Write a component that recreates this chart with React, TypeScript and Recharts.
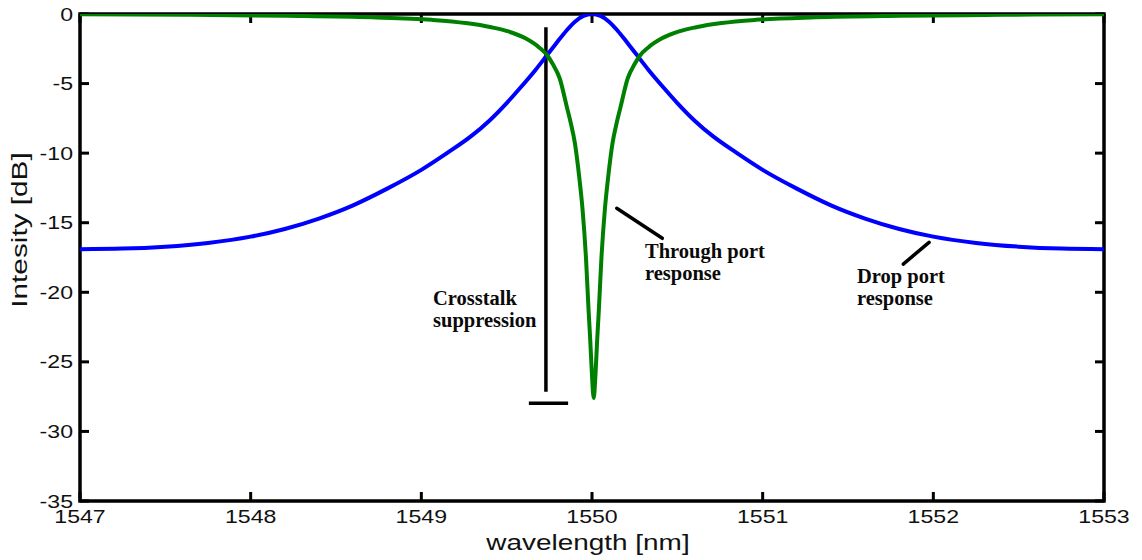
import { Line, LineChart, ReferenceArea, ReferenceLine, XAxis, YAxis } from "recharts";

// axis ticks
const wavelengthTicks = [1547, 1548, 1549, 1550, 1551, 1552, 1553];
const intensityTicks = [-35, -30, -25, -20, -15, -10, -5, 0];

// drop port response (blue)
const dropWavelength = [
  1547.0, 1547.25, 1547.5, 1547.75, 1548.0, 1548.2, 1548.4, 1548.6, 1548.8, 1549.0,
  1549.15, 1549.29, 1549.4, 1549.5, 1549.58, 1549.67, 1549.74, 1549.8, 1549.85, 1549.9,
  1549.95, 1550.0, 1550.05, 1550.1, 1550.15, 1550.2, 1550.26, 1550.33, 1550.42, 1550.5,
  1550.6, 1550.71, 1550.85, 1551.0, 1551.2, 1551.4, 1551.6, 1551.8, 1552.0, 1552.25,
  1552.5, 1552.75, 1553.0,
];
const dropIntensity = [
  -16.9, -16.86, -16.72, -16.45, -16.0, -15.45, -14.7, -13.75, -12.55, -11.2,
  -10.0, -8.8, -7.65, -6.4, -5.3, -4.0, -2.9, -1.95, -1.2, -0.55,
  -0.14, 0, -0.14, -0.55, -1.2, -1.95, -2.9, -4.0, -5.3, -6.4,
  -7.65, -8.8, -10.0, -11.2, -12.55, -13.75, -14.7, -15.45, -16.0, -16.45,
  -16.72, -16.86, -16.9,
];

// through port response (green)
const throughWavelength = [
  1547.0, 1547.61, 1548.21, 1548.71, 1549.06, 1549.26, 1549.41, 1549.51, 1549.61, 1549.69,
  1549.74, 1549.77, 1549.81, 1549.855, 1549.875, 1549.9, 1549.925, 1549.945, 1549.965, 1549.98,
  1549.99, 1550.0, 1550.01,
  1550.02, 1550.03, 1550.04, 1550.055, 1550.075, 1550.095, 1550.12, 1550.145, 1550.165, 1550.21,
  1550.25, 1550.28, 1550.33, 1550.41, 1550.51, 1550.61, 1550.76, 1550.96, 1551.31, 1551.81,
  1552.41, 1553.0,
];
const throughIntensity = [
  -0.02, -0.06, -0.13, -0.24, -0.42, -0.65, -0.95, -1.25, -1.75, -2.4,
  -3.0, -3.6, -4.6, -6.8, -7.8, -9.3, -11.7, -14.1, -17.6, -21.3,
  -23.5, -26.0, -27.6,
  -26.0, -23.5, -21.3, -17.6, -14.1, -11.7, -9.3, -7.8, -6.8, -4.6,
  -3.6, -3.0, -2.4, -1.75, -1.25, -0.95, -0.65, -0.42, -0.24, -0.13,
  -0.06, -0.02,
];

// annotation strokes, in wavelength / dB
const crosstalkBar = [
  { x: 1549.73, y: -0.96 },
  { x: 1549.73, y: -27.15 },
];
const crosstalkFloor = [
  { x: 1549.63, y: -27.98 },
  { x: 1549.86, y: -27.98 },
];
const throughPointer = [
  { x: 1550.145, y: -13.96 },
  { x: 1550.412, y: -16.12 },
];
const dropPointer = [
  { x: 1551.824, y: -17.97 },
  { x: 1551.975, y: -16.41 },
];

const dropData = dropWavelength.map((wl, i) => ({ wl, db: dropIntensity[i] }));
const throughData = throughWavelength.map((wl, i) => ({ wl, db: throughIntensity[i] }));

const SANS = "'Liberation Sans', Arial, sans-serif";
const SERIF = "'Liberation Serif', 'Times New Roman', serif";
const STRETCH = 1.25;
const TICK_LEN = 9;

function BottomLabel(props: any) {
  const { x, y, payload } = props;
  return (
    <text
      transform={`translate(${x},${y + 22}) scale(${STRETCH},1)`}
      textAnchor="middle"
      fontSize={18.5}
      fontFamily={SANS}
      fill="#111"
    >
      {payload.value}
    </text>
  );
}

function LeftLabel(props: any) {
  const { x, y, payload } = props;
  return (
    <text
      transform={`translate(${x - 7},${y + 6.6}) scale(${STRETCH},1)`}
      textAnchor="end"
      fontSize={18.5}
      fontFamily={SANS}
      fill="#111"
    >
      {payload.value}
    </text>
  );
}

// inward tick marks at both ends of a vertical reference line
function VerticalTicks(p: any) {
  const top = Math.min(p.y1, p.y2);
  const bottom = Math.max(p.y1, p.y2);
  return (
    <g stroke="#000" strokeWidth={3}>
      <line x1={p.x1} x2={p.x1} y1={top} y2={top + TICK_LEN} />
      <line x1={p.x1} x2={p.x1} y1={bottom} y2={bottom - TICK_LEN} />
    </g>
  );
}

// inward tick marks at both ends of a horizontal reference line
function HorizontalTicks(p: any) {
  const left = Math.min(p.x1, p.x2);
  const right = Math.max(p.x1, p.x2);
  return (
    <g stroke="#000" strokeWidth={3}>
      <line x1={left} x2={left + TICK_LEN} y1={p.y1} y2={p.y1} />
      <line x1={right} x2={right - TICK_LEN} y1={p.y1} y2={p.y1} />
    </g>
  );
}

function Note({ x, y, lines }: { x: number; y: number; lines: string[] }) {
  return (
    <text x={x} y={y} fontSize={20.5} fontWeight="bold" fontFamily={SERIF} fill="#0a0a0a">
      {lines.map((t, i) => (
        <tspan key={t} x={x} dy={i === 0 ? 0 : 22}>
          {t}
        </tspan>
      ))}
    </text>
  );
}

export default function App() {
  return (
    <div style={{ position: "absolute", left: 0, top: 0, width: 1142, height: 560, background: "#fff" }}>
      <LineChart width={1142} height={560} margin={{ top: 14, right: 38, bottom: 0, left: 0 }}>
        <XAxis
          dataKey="wl"
          type="number"
          domain={[1547, 1553]}
          ticks={wavelengthTicks}
          interval={0}
          allowDataOverflow
          height={59}
          tickSize={0}
          tickMargin={0}
          tickLine={false}
          axisLine={false}
          tick={<BottomLabel />}
        />
        <YAxis
          type="number"
          domain={[-35, 0]}
          ticks={intensityTicks}
          interval={0}
          allowDataOverflow
          width={80}
          tickSize={0}
          tickMargin={0}
          tickLine={false}
          axisLine={false}
          tick={<LeftLabel />}
        />
        <ReferenceArea
          x1={1547}
          x2={1553}
          y1={-35}
          y2={0}
          fill="none"
          fillOpacity={0}
          stroke="#000"
          strokeWidth={3.5}
          ifOverflow="visible"
        />
        {wavelengthTicks.map((v) => (
          <ReferenceLine key={`xt${v}`} x={v} shape={VerticalTicks} />
        ))}
        {intensityTicks.map((v) => (
          <ReferenceLine key={`yt${v}`} y={v} shape={HorizontalTicks} />
        ))}
        <ReferenceLine segment={crosstalkBar} stroke="#000" strokeWidth={3.5} />
        <ReferenceLine segment={crosstalkFloor} stroke="#000" strokeWidth={3.5} />
        <ReferenceLine segment={throughPointer} stroke="#000" strokeWidth={3.5} strokeLinecap="round" />
        <ReferenceLine segment={dropPointer} stroke="#000" strokeWidth={3.5} strokeLinecap="round" />
        <Line
          data={dropData}
          dataKey="db"
          type="monotone"
          stroke="#0000ff"
          strokeWidth={4}
          dot={false}
          isAnimationActive={false}
        />
        <Line
          data={throughData}
          dataKey="db"
          type="monotone"
          stroke="#008000"
          strokeWidth={4}
          dot={false}
          isAnimationActive={false}
        />
      </LineChart>
      <svg
        width={1142}
        height={560}
        style={{ position: "absolute", left: 0, top: 0, pointerEvents: "none" }}
      >
        <text
          transform={`translate(588,550) scale(1.27,1)`}
          textAnchor="middle"
          fontSize={22}
          fontFamily={SANS}
          fill="#111"
        >
          wavelength [nm]
        </text>
        <text
          transform={`translate(27,230) rotate(-90) scale(1.75,1.25)`}
          textAnchor="middle"
          fontSize={17}
          fontFamily={SANS}
          fill="#111"
        >
          Intesity [dB]
        </text>
        <Note x={433} y={305} lines={["Crosstalk", "suppression"]} />
        <Note x={645} y={258} lines={["Through port", "response"]} />
        <Note x={857} y={283} lines={["Drop port", "response"]} />
      </svg>
    </div>
  );
}
